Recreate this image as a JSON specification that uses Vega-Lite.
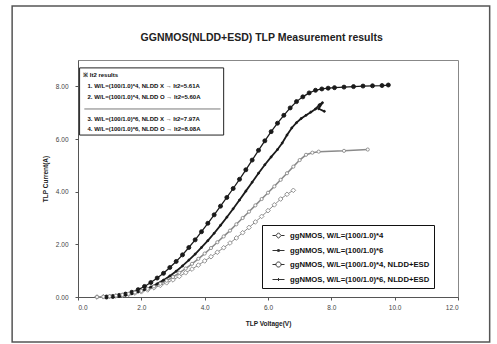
{
  "$schema": "https://vega.github.io/schema/vega-lite/v6.json",
  "width": 380,
  "height": 237,
  "autosize": "none",
  "padding": {"left": 78, "top": 60, "right": 39, "bottom": 47},
  "background": "white",
  "config": {
    "view": {"stroke": "#888", "strokeWidth": 1},
    "axis": {"labelFont": "Liberation Sans", "labelFontSize": 6.5, "labelColor": "#444", "titleFont": "Liberation Sans", "titleFontSize": 6.5, "titleFontWeight": "bold", "titleColor": "#222", "gridColor": "#cfcfcf", "gridWidth": 0.8, "domainColor": "#555", "tickColor": "#555", "tickSize": 3}
  },
  "datasets": {
    "tlp": [
      {"s": "ggNMOS, W/L=(100/1.0)*4", "o": 1, "v": 0.6, "i": 0.0},
      {"s": "ggNMOS, W/L=(100/1.0)*4", "o": 2, "v": 0.8, "i": 0.01},
      {"s": "ggNMOS, W/L=(100/1.0)*4", "o": 3, "v": 1.0, "i": 0.02},
      {"s": "ggNMOS, W/L=(100/1.0)*4", "o": 4, "v": 1.2, "i": 0.04},
      {"s": "ggNMOS, W/L=(100/1.0)*4", "o": 5, "v": 1.4, "i": 0.07},
      {"s": "ggNMOS, W/L=(100/1.0)*4", "o": 6, "v": 1.6, "i": 0.1},
      {"s": "ggNMOS, W/L=(100/1.0)*4", "o": 7, "v": 1.8, "i": 0.15},
      {"s": "ggNMOS, W/L=(100/1.0)*4", "o": 8, "v": 2.0, "i": 0.2},
      {"s": "ggNMOS, W/L=(100/1.0)*4", "o": 9, "v": 2.2, "i": 0.27},
      {"s": "ggNMOS, W/L=(100/1.0)*4", "o": 10, "v": 2.4, "i": 0.35},
      {"s": "ggNMOS, W/L=(100/1.0)*4", "o": 11, "v": 2.6, "i": 0.44},
      {"s": "ggNMOS, W/L=(100/1.0)*4", "o": 12, "v": 2.8, "i": 0.54},
      {"s": "ggNMOS, W/L=(100/1.0)*4", "o": 13, "v": 3.0, "i": 0.65},
      {"s": "ggNMOS, W/L=(100/1.0)*4", "o": 14, "v": 3.2, "i": 0.78},
      {"s": "ggNMOS, W/L=(100/1.0)*4", "o": 15, "v": 3.4, "i": 0.92},
      {"s": "ggNMOS, W/L=(100/1.0)*4", "o": 16, "v": 3.6, "i": 1.06},
      {"s": "ggNMOS, W/L=(100/1.0)*4", "o": 17, "v": 3.8, "i": 1.21},
      {"s": "ggNMOS, W/L=(100/1.0)*4", "o": 18, "v": 4.0, "i": 1.37},
      {"s": "ggNMOS, W/L=(100/1.0)*4", "o": 19, "v": 4.2, "i": 1.53},
      {"s": "ggNMOS, W/L=(100/1.0)*4", "o": 20, "v": 4.4, "i": 1.7},
      {"s": "ggNMOS, W/L=(100/1.0)*4", "o": 21, "v": 4.6, "i": 1.87},
      {"s": "ggNMOS, W/L=(100/1.0)*4", "o": 22, "v": 4.8, "i": 2.05},
      {"s": "ggNMOS, W/L=(100/1.0)*4", "o": 23, "v": 5.0, "i": 2.24},
      {"s": "ggNMOS, W/L=(100/1.0)*4", "o": 24, "v": 5.2, "i": 2.44},
      {"s": "ggNMOS, W/L=(100/1.0)*4", "o": 25, "v": 5.4, "i": 2.64},
      {"s": "ggNMOS, W/L=(100/1.0)*4", "o": 26, "v": 5.6, "i": 2.85},
      {"s": "ggNMOS, W/L=(100/1.0)*4", "o": 27, "v": 5.8, "i": 3.06},
      {"s": "ggNMOS, W/L=(100/1.0)*4", "o": 28, "v": 6.0, "i": 3.28},
      {"s": "ggNMOS, W/L=(100/1.0)*4", "o": 29, "v": 6.2, "i": 3.5},
      {"s": "ggNMOS, W/L=(100/1.0)*4", "o": 30, "v": 6.4, "i": 3.72},
      {"s": "ggNMOS, W/L=(100/1.0)*4", "o": 31, "v": 6.6, "i": 3.9},
      {"s": "ggNMOS, W/L=(100/1.0)*4", "o": 32, "v": 6.8, "i": 4.05},

      {"s": "ggNMOS, W/L=(100/1.0)*6", "o": 1, "v": 0.9, "i": 0.0},
      {"s": "ggNMOS, W/L=(100/1.0)*6", "o": 2, "v": 1.1, "i": 0.02},
      {"s": "ggNMOS, W/L=(100/1.0)*6", "o": 3, "v": 1.3, "i": 0.06},
      {"s": "ggNMOS, W/L=(100/1.0)*6", "o": 4, "v": 1.5, "i": 0.11},
      {"s": "ggNMOS, W/L=(100/1.0)*6", "o": 5, "v": 1.7, "i": 0.18},
      {"s": "ggNMOS, W/L=(100/1.0)*6", "o": 6, "v": 1.9, "i": 0.28},
      {"s": "ggNMOS, W/L=(100/1.0)*6", "o": 7, "v": 2.1, "i": 0.4},
      {"s": "ggNMOS, W/L=(100/1.0)*6", "o": 8, "v": 2.3, "i": 0.55},
      {"s": "ggNMOS, W/L=(100/1.0)*6", "o": 9, "v": 2.5, "i": 0.72},
      {"s": "ggNMOS, W/L=(100/1.0)*6", "o": 10, "v": 2.7, "i": 0.9},
      {"s": "ggNMOS, W/L=(100/1.0)*6", "o": 11, "v": 2.9, "i": 1.12},
      {"s": "ggNMOS, W/L=(100/1.0)*6", "o": 12, "v": 3.1, "i": 1.35},
      {"s": "ggNMOS, W/L=(100/1.0)*6", "o": 13, "v": 3.3, "i": 1.6},
      {"s": "ggNMOS, W/L=(100/1.0)*6", "o": 14, "v": 3.5, "i": 1.88},
      {"s": "ggNMOS, W/L=(100/1.0)*6", "o": 15, "v": 3.7, "i": 2.17},
      {"s": "ggNMOS, W/L=(100/1.0)*6", "o": 16, "v": 3.9, "i": 2.48},
      {"s": "ggNMOS, W/L=(100/1.0)*6", "o": 17, "v": 4.1, "i": 2.8},
      {"s": "ggNMOS, W/L=(100/1.0)*6", "o": 18, "v": 4.3, "i": 3.12},
      {"s": "ggNMOS, W/L=(100/1.0)*6", "o": 19, "v": 4.5, "i": 3.45},
      {"s": "ggNMOS, W/L=(100/1.0)*6", "o": 20, "v": 4.7, "i": 3.78},
      {"s": "ggNMOS, W/L=(100/1.0)*6", "o": 21, "v": 4.9, "i": 4.12},
      {"s": "ggNMOS, W/L=(100/1.0)*6", "o": 22, "v": 5.1, "i": 4.47},
      {"s": "ggNMOS, W/L=(100/1.0)*6", "o": 23, "v": 5.3, "i": 4.83},
      {"s": "ggNMOS, W/L=(100/1.0)*6", "o": 24, "v": 5.5, "i": 5.2},
      {"s": "ggNMOS, W/L=(100/1.0)*6", "o": 25, "v": 5.7, "i": 5.57},
      {"s": "ggNMOS, W/L=(100/1.0)*6", "o": 26, "v": 5.9, "i": 5.93},
      {"s": "ggNMOS, W/L=(100/1.0)*6", "o": 27, "v": 6.1, "i": 6.28},
      {"s": "ggNMOS, W/L=(100/1.0)*6", "o": 28, "v": 6.3, "i": 6.6},
      {"s": "ggNMOS, W/L=(100/1.0)*6", "o": 29, "v": 6.5, "i": 6.9},
      {"s": "ggNMOS, W/L=(100/1.0)*6", "o": 30, "v": 6.7, "i": 7.18},
      {"s": "ggNMOS, W/L=(100/1.0)*6", "o": 31, "v": 6.9, "i": 7.42},
      {"s": "ggNMOS, W/L=(100/1.0)*6", "o": 32, "v": 7.1, "i": 7.6},
      {"s": "ggNMOS, W/L=(100/1.0)*6", "o": 33, "v": 7.3, "i": 7.75},
      {"s": "ggNMOS, W/L=(100/1.0)*6", "o": 34, "v": 7.5, "i": 7.85},
      {"s": "ggNMOS, W/L=(100/1.0)*6", "o": 35, "v": 7.7, "i": 7.9},
      {"s": "ggNMOS, W/L=(100/1.0)*6", "o": 36, "v": 7.9, "i": 7.93},
      {"s": "ggNMOS, W/L=(100/1.0)*6", "o": 37, "v": 8.1, "i": 7.95},
      {"s": "ggNMOS, W/L=(100/1.0)*6", "o": 38, "v": 8.4, "i": 7.97},
      {"s": "ggNMOS, W/L=(100/1.0)*6", "o": 39, "v": 8.7, "i": 7.99},
      {"s": "ggNMOS, W/L=(100/1.0)*6", "o": 40, "v": 9.0, "i": 8.01},
      {"s": "ggNMOS, W/L=(100/1.0)*6", "o": 41, "v": 9.3, "i": 8.02},
      {"s": "ggNMOS, W/L=(100/1.0)*6", "o": 42, "v": 9.6, "i": 8.03},
      {"s": "ggNMOS, W/L=(100/1.0)*6", "o": 43, "v": 9.8, "i": 8.05},

      {"s": "ggNMOS, W/L=(100/1.0)*4, NLDD+ESD", "o": 1, "v": 0.6, "i": 0.0},
      {"s": "ggNMOS, W/L=(100/1.0)*4, NLDD+ESD", "o": 2, "v": 0.8, "i": 0.01},
      {"s": "ggNMOS, W/L=(100/1.0)*4, NLDD+ESD", "o": 3, "v": 1.0, "i": 0.03},
      {"s": "ggNMOS, W/L=(100/1.0)*4, NLDD+ESD", "o": 4, "v": 1.2, "i": 0.05},
      {"s": "ggNMOS, W/L=(100/1.0)*4, NLDD+ESD", "o": 5, "v": 1.4, "i": 0.08},
      {"s": "ggNMOS, W/L=(100/1.0)*4, NLDD+ESD", "o": 6, "v": 1.6, "i": 0.12},
      {"s": "ggNMOS, W/L=(100/1.0)*4, NLDD+ESD", "o": 7, "v": 1.8, "i": 0.17},
      {"s": "ggNMOS, W/L=(100/1.0)*4, NLDD+ESD", "o": 8, "v": 2.0, "i": 0.23},
      {"s": "ggNMOS, W/L=(100/1.0)*4, NLDD+ESD", "o": 9, "v": 2.2, "i": 0.31},
      {"s": "ggNMOS, W/L=(100/1.0)*4, NLDD+ESD", "o": 10, "v": 2.4, "i": 0.4},
      {"s": "ggNMOS, W/L=(100/1.0)*4, NLDD+ESD", "o": 11, "v": 2.6, "i": 0.5},
      {"s": "ggNMOS, W/L=(100/1.0)*4, NLDD+ESD", "o": 12, "v": 2.8, "i": 0.62},
      {"s": "ggNMOS, W/L=(100/1.0)*4, NLDD+ESD", "o": 13, "v": 3.0, "i": 0.76},
      {"s": "ggNMOS, W/L=(100/1.0)*4, NLDD+ESD", "o": 14, "v": 3.2, "i": 0.92},
      {"s": "ggNMOS, W/L=(100/1.0)*4, NLDD+ESD", "o": 15, "v": 3.4, "i": 1.08},
      {"s": "ggNMOS, W/L=(100/1.0)*4, NLDD+ESD", "o": 16, "v": 3.6, "i": 1.26},
      {"s": "ggNMOS, W/L=(100/1.0)*4, NLDD+ESD", "o": 17, "v": 3.8, "i": 1.45},
      {"s": "ggNMOS, W/L=(100/1.0)*4, NLDD+ESD", "o": 18, "v": 4.0, "i": 1.65},
      {"s": "ggNMOS, W/L=(100/1.0)*4, NLDD+ESD", "o": 19, "v": 4.2, "i": 1.86},
      {"s": "ggNMOS, W/L=(100/1.0)*4, NLDD+ESD", "o": 20, "v": 4.4, "i": 2.08},
      {"s": "ggNMOS, W/L=(100/1.0)*4, NLDD+ESD", "o": 21, "v": 4.6, "i": 2.3},
      {"s": "ggNMOS, W/L=(100/1.0)*4, NLDD+ESD", "o": 22, "v": 4.8, "i": 2.52},
      {"s": "ggNMOS, W/L=(100/1.0)*4, NLDD+ESD", "o": 23, "v": 5.0, "i": 2.76},
      {"s": "ggNMOS, W/L=(100/1.0)*4, NLDD+ESD", "o": 24, "v": 5.2, "i": 3.0},
      {"s": "ggNMOS, W/L=(100/1.0)*4, NLDD+ESD", "o": 25, "v": 5.4, "i": 3.24},
      {"s": "ggNMOS, W/L=(100/1.0)*4, NLDD+ESD", "o": 26, "v": 5.6, "i": 3.48},
      {"s": "ggNMOS, W/L=(100/1.0)*4, NLDD+ESD", "o": 27, "v": 5.8, "i": 3.72},
      {"s": "ggNMOS, W/L=(100/1.0)*4, NLDD+ESD", "o": 28, "v": 6.0, "i": 3.96},
      {"s": "ggNMOS, W/L=(100/1.0)*4, NLDD+ESD", "o": 29, "v": 6.2, "i": 4.2},
      {"s": "ggNMOS, W/L=(100/1.0)*4, NLDD+ESD", "o": 30, "v": 6.4, "i": 4.45},
      {"s": "ggNMOS, W/L=(100/1.0)*4, NLDD+ESD", "o": 31, "v": 6.6, "i": 4.7},
      {"s": "ggNMOS, W/L=(100/1.0)*4, NLDD+ESD", "o": 32, "v": 6.8, "i": 4.95},
      {"s": "ggNMOS, W/L=(100/1.0)*4, NLDD+ESD", "o": 33, "v": 7.0, "i": 5.2},
      {"s": "ggNMOS, W/L=(100/1.0)*4, NLDD+ESD", "o": 34, "v": 7.2, "i": 5.4},
      {"s": "ggNMOS, W/L=(100/1.0)*4, NLDD+ESD", "o": 35, "v": 7.4, "i": 5.48},
      {"s": "ggNMOS, W/L=(100/1.0)*4, NLDD+ESD", "o": 36, "v": 7.6, "i": 5.52},
      {"s": "ggNMOS, W/L=(100/1.0)*4, NLDD+ESD", "o": 37, "v": 8.4, "i": 5.55},
      {"s": "ggNMOS, W/L=(100/1.0)*4, NLDD+ESD", "o": 38, "v": 9.15, "i": 5.6},

      {"s": "ggNMOS, W/L=(100/1.0)*6, NLDD+ESD", "o": 1, "v": 0.9, "i": 0.0},
      {"s": "ggNMOS, W/L=(100/1.0)*6, NLDD+ESD", "o": 2, "v": 1.1, "i": 0.02},
      {"s": "ggNMOS, W/L=(100/1.0)*6, NLDD+ESD", "o": 3, "v": 1.3, "i": 0.04},
      {"s": "ggNMOS, W/L=(100/1.0)*6, NLDD+ESD", "o": 4, "v": 1.5, "i": 0.07},
      {"s": "ggNMOS, W/L=(100/1.0)*6, NLDD+ESD", "o": 5, "v": 1.7, "i": 0.12},
      {"s": "ggNMOS, W/L=(100/1.0)*6, NLDD+ESD", "o": 6, "v": 1.9, "i": 0.19},
      {"s": "ggNMOS, W/L=(100/1.0)*6, NLDD+ESD", "o": 7, "v": 2.1, "i": 0.28},
      {"s": "ggNMOS, W/L=(100/1.0)*6, NLDD+ESD", "o": 8, "v": 2.3, "i": 0.38},
      {"s": "ggNMOS, W/L=(100/1.0)*6, NLDD+ESD", "o": 9, "v": 2.5, "i": 0.5},
      {"s": "ggNMOS, W/L=(100/1.0)*6, NLDD+ESD", "o": 10, "v": 2.7, "i": 0.64},
      {"s": "ggNMOS, W/L=(100/1.0)*6, NLDD+ESD", "o": 11, "v": 2.9, "i": 0.8},
      {"s": "ggNMOS, W/L=(100/1.0)*6, NLDD+ESD", "o": 12, "v": 3.1, "i": 0.98},
      {"s": "ggNMOS, W/L=(100/1.0)*6, NLDD+ESD", "o": 13, "v": 3.3, "i": 1.18},
      {"s": "ggNMOS, W/L=(100/1.0)*6, NLDD+ESD", "o": 14, "v": 3.5, "i": 1.4},
      {"s": "ggNMOS, W/L=(100/1.0)*6, NLDD+ESD", "o": 15, "v": 3.7, "i": 1.63},
      {"s": "ggNMOS, W/L=(100/1.0)*6, NLDD+ESD", "o": 16, "v": 3.9, "i": 1.88},
      {"s": "ggNMOS, W/L=(100/1.0)*6, NLDD+ESD", "o": 17, "v": 4.1, "i": 2.14},
      {"s": "ggNMOS, W/L=(100/1.0)*6, NLDD+ESD", "o": 18, "v": 4.3, "i": 2.42},
      {"s": "ggNMOS, W/L=(100/1.0)*6, NLDD+ESD", "o": 19, "v": 4.5, "i": 2.72},
      {"s": "ggNMOS, W/L=(100/1.0)*6, NLDD+ESD", "o": 20, "v": 4.7, "i": 3.03},
      {"s": "ggNMOS, W/L=(100/1.0)*6, NLDD+ESD", "o": 21, "v": 4.9, "i": 3.35},
      {"s": "ggNMOS, W/L=(100/1.0)*6, NLDD+ESD", "o": 22, "v": 5.1, "i": 3.68},
      {"s": "ggNMOS, W/L=(100/1.0)*6, NLDD+ESD", "o": 23, "v": 5.3, "i": 4.02},
      {"s": "ggNMOS, W/L=(100/1.0)*6, NLDD+ESD", "o": 24, "v": 5.5, "i": 4.36},
      {"s": "ggNMOS, W/L=(100/1.0)*6, NLDD+ESD", "o": 25, "v": 5.7, "i": 4.7},
      {"s": "ggNMOS, W/L=(100/1.0)*6, NLDD+ESD", "o": 26, "v": 5.9, "i": 5.02},
      {"s": "ggNMOS, W/L=(100/1.0)*6, NLDD+ESD", "o": 27, "v": 6.1, "i": 5.32},
      {"s": "ggNMOS, W/L=(100/1.0)*6, NLDD+ESD", "o": 28, "v": 6.3, "i": 5.6},
      {"s": "ggNMOS, W/L=(100/1.0)*6, NLDD+ESD", "o": 29, "v": 6.45, "i": 5.85},
      {"s": "ggNMOS, W/L=(100/1.0)*6, NLDD+ESD", "o": 30, "v": 6.6, "i": 6.15},
      {"s": "ggNMOS, W/L=(100/1.0)*6, NLDD+ESD", "o": 31, "v": 6.75, "i": 6.42},
      {"s": "ggNMOS, W/L=(100/1.0)*6, NLDD+ESD", "o": 32, "v": 6.9, "i": 6.62},
      {"s": "ggNMOS, W/L=(100/1.0)*6, NLDD+ESD", "o": 33, "v": 7.05, "i": 6.78},
      {"s": "ggNMOS, W/L=(100/1.0)*6, NLDD+ESD", "o": 34, "v": 7.2, "i": 6.9},
      {"s": "ggNMOS, W/L=(100/1.0)*6, NLDD+ESD", "o": 35, "v": 7.35, "i": 7.02},
      {"s": "ggNMOS, W/L=(100/1.0)*6, NLDD+ESD", "o": 36, "v": 7.5, "i": 7.14},
      {"s": "ggNMOS, W/L=(100/1.0)*6, NLDD+ESD", "o": 37, "v": 7.62, "i": 7.3},
      {"s": "ggNMOS, W/L=(100/1.0)*6, NLDD+ESD", "o": 38, "v": 7.72, "i": 7.38},
      {"s": "ggNMOS, W/L=(100/1.0)*6, NLDD+ESD", "o": 39, "v": 7.6, "i": 7.15},
      {"s": "ggNMOS, W/L=(100/1.0)*6, NLDD+ESD", "o": 40, "v": 7.78, "i": 7.05}
    ],
    "one": [{"k": 1}]
  },
  "resolve": {"scale": {"shape": "independent", "size": "independent"}, "legend": {"shape": "independent"}},
  "layer": [
    {
      "data": {"name": "one"},
      "mark": {"type": "rect", "fill": null, "stroke": "#555", "strokeWidth": 1.5},
      "encoding": {
        "x": {"datum": -2.08, "type": "quantitative", "scale": {"domain": [0, 12], "nice": false}},
        "x2": {"datum": 13.0},
        "y": {"datum": 11.05, "type": "quantitative", "scale": {"domain": [0, 9], "nice": false}},
        "y2": {"datum": -1.71}
      }
    },
    {
      "data": {"name": "one"},
      "mark": {"type": "text", "text": "GGNMOS(NLDD+ESD) TLP Measurement results", "font": "Liberation Sans", "fontSize": 10.5, "fontWeight": "bold", "align": "center", "baseline": "middle", "color": "#222"},
      "encoding": {
        "x": {"datum": 5.8, "type": "quantitative"},
        "y": {"datum": 9.85, "type": "quantitative"}
      }
    },
    {
      "data": {"name": "tlp"},
      "mark": {"type": "line"},
      "encoding": {
        "x": {"field": "v", "type": "quantitative", "scale": {"domain": [0, 12], "nice": false},
              "axis": {"values": [0, 2, 4, 6, 8, 10, 12], "format": ".1f", "title": "TLP Voltage(V)", "labelPadding": 4, "titlePadding": 10}},
        "y": {"field": "i", "type": "quantitative", "scale": {"domain": [0, 9], "nice": false},
              "axis": {"values": [0, 1, 2, 3, 4, 5, 6, 7, 8, 9], "format": ".2f", "title": "TLP Current(A)", "labelPadding": 7, "titlePadding": 7}},
        "stroke": {"field": "s", "type": "nominal",
                   "scale": {"domain": ["ggNMOS, W/L=(100/1.0)*4", "ggNMOS, W/L=(100/1.0)*6", "ggNMOS, W/L=(100/1.0)*4, NLDD+ESD", "ggNMOS, W/L=(100/1.0)*6, NLDD+ESD"],
                             "range": ["#8a8a8a", "#1a1a1a", "#8a8a8a", "#1a1a1a"]},
                   "legend": null},
        "strokeWidth": {"field": "s", "type": "nominal",
                        "scale": {"domain": ["ggNMOS, W/L=(100/1.0)*4", "ggNMOS, W/L=(100/1.0)*6", "ggNMOS, W/L=(100/1.0)*4, NLDD+ESD", "ggNMOS, W/L=(100/1.0)*6, NLDD+ESD"],
                                  "range": [1, 1.8, 1, 1.5]},
                        "legend": null},
        "order": {"field": "o", "type": "quantitative"}
      }
    },
    {
      "data": {"name": "tlp"},
      "mark": {"type": "point", "filled": true, "strokeWidth": 0.9, "opacity": 1},
      "encoding": {
        "x": {"field": "v", "type": "quantitative"},
        "y": {"field": "i", "type": "quantitative"},
        "stroke": {"field": "s", "type": "nominal", "legend": null},
        "fill": {"field": "s", "type": "nominal",
                 "scale": {"domain": ["ggNMOS, W/L=(100/1.0)*4", "ggNMOS, W/L=(100/1.0)*6", "ggNMOS, W/L=(100/1.0)*4, NLDD+ESD", "ggNMOS, W/L=(100/1.0)*6, NLDD+ESD"],
                           "range": ["#ffffff", "#1a1a1a", "#ffffff", "#1a1a1a"]},
                 "legend": null},
        "shape": {"field": "s", "type": "nominal",
                  "scale": {"domain": ["ggNMOS, W/L=(100/1.0)*4", "ggNMOS, W/L=(100/1.0)*6", "ggNMOS, W/L=(100/1.0)*4, NLDD+ESD", "ggNMOS, W/L=(100/1.0)*6, NLDD+ESD"],
                            "range": ["diamond", "circle", "circle", "circle"]},
                  "legend": null},
        "size": {"field": "s", "type": "nominal",
                 "scale": {"domain": ["ggNMOS, W/L=(100/1.0)*4", "ggNMOS, W/L=(100/1.0)*6", "ggNMOS, W/L=(100/1.0)*4, NLDD+ESD", "ggNMOS, W/L=(100/1.0)*6, NLDD+ESD"],
                           "range": [22, 4, 22, 4]},
                 "legend": null}
      }
    },
    {
      "data": {"name": "tlp"},
      "mark": {"type": "point", "opacity": 0, "filled": false, "strokeWidth": 1},
      "encoding": {
        "x": {"field": "v", "type": "quantitative"},
        "y": {"field": "i", "type": "quantitative"},
        "stroke": {"field": "s", "type": "nominal", "legend": null},
        "shape": {"field": "s", "type": "nominal",
                  "scale": {"domain": ["ggNMOS, W/L=(100/1.0)*4", "ggNMOS, W/L=(100/1.0)*6", "ggNMOS, W/L=(100/1.0)*4, NLDD+ESD", "ggNMOS, W/L=(100/1.0)*6, NLDD+ESD"],
                            "range": ["M-1,0H-0.45M0.45,0H1M0,-0.45L0.45,0L0,0.45L-0.45,0Z",
                                      "M-1,0H1M-0.15,-0.15H0.15V0.15H-0.15Z",
                                      "M-1,0H-0.42M0.42,0H1M-0.42,0A0.42,0.42,0,1,0,0.42,0A0.42,0.42,0,1,0,-0.42,0Z",
                                      "M-1,0H1M0,-0.25V0.25"]},
                  "legend": {"title": null, "orient": "none", "legendX": 184, "legendY": 165,
                             "symbolSize": 144, "symbolStrokeWidth": 1, "symbolOpacity": 1, "symbolStrokeColor": "#333",
                             "labelFont": "Liberation Sans", "labelFontSize": 7.7, "labelFontWeight": "bold", "labelColor": "#111",
                             "strokeColor": "#111", "fillColor": "white", "padding": 4, "rowPadding": 3,
                             "symbolOffset": 6, "labelOffset": 5, "labelLimit": 300}}
      }
    },
    {
      "data": {"name": "one"},
      "mark": {"type": "rect", "fill": "white", "stroke": "#222", "strokeWidth": 1},
      "encoding": {
        "x": {"datum": 0.05, "type": "quantitative"},
        "x2": {"datum": 4.6},
        "y": {"datum": 8.7, "type": "quantitative"},
        "y2": {"datum": 6.15}
      }
    },
    {
      "data": {"name": "one"},
      "mark": {"type": "rule", "stroke": "#555", "strokeWidth": 0.8},
      "encoding": {
        "x": {"datum": 0.2, "type": "quantitative"},
        "x2": {"datum": 4.5},
        "y": {"datum": 7.14, "type": "quantitative"}
      }
    },
    {
      "data": {"name": "one"},
      "mark": {"type": "text", "text": "※ It2 results", "font": "Liberation Sans", "fontSize": 6, "fontWeight": "bold", "align": "left", "baseline": "middle", "color": "#111"},
      "encoding": {
        "x": {"datum": 0.16, "type": "quantitative"},
        "y": {"datum": 8.43, "type": "quantitative"}
      }
    },
    {
      "data": {"name": "one"},
      "mark": {"type": "text", "text": ["1. W/L=(100/1.0)*4, NLDD X → It2=5.61A", "2. W/L=(100/1.0)*4, NLDD O → It2=5.60A"], "lineHeight": 11, "font": "Liberation Sans", "fontSize": 6, "fontWeight": "bold", "align": "left", "baseline": "top", "color": "#111"},
      "encoding": {
        "x": {"datum": 0.3, "type": "quantitative"},
        "y": {"datum": 8.12, "type": "quantitative"}
      }
    },
    {
      "data": {"name": "one"},
      "mark": {"type": "text", "text": ["3. W/L=(100/1.0)*6, NLDD X → It2=7.97A", "4. W/L=(100/1.0)*6, NLDD O → It2=8.08A"], "lineHeight": 10.5, "font": "Liberation Sans", "fontSize": 6, "fontWeight": "bold", "align": "left", "baseline": "top", "color": "#111"},
      "encoding": {
        "x": {"datum": 0.3, "type": "quantitative"},
        "y": {"datum": 6.88, "type": "quantitative"}
      }
    }
  ]
}
